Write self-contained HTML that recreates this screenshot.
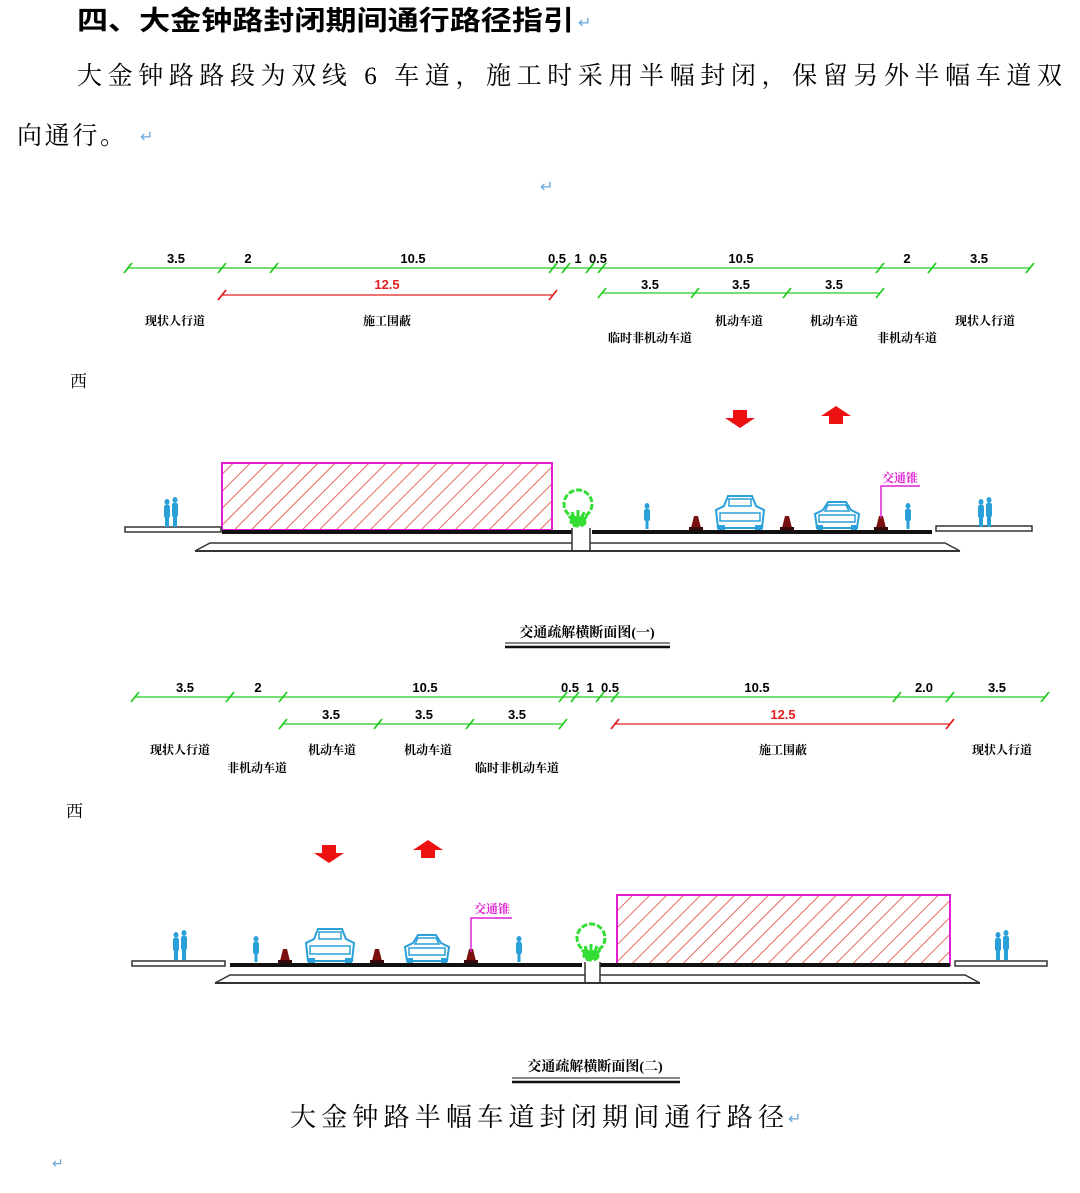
<!DOCTYPE html>
<html><head><meta charset="utf-8"><style>
html,body{margin:0;padding:0;background:#fff;width:1080px;height:1193px;overflow:hidden}
svg{display:block}
.h{font-family:"Liberation Sans","Noto Sans CJK SC",sans-serif;font-weight:bold}
.s{font-family:"Liberation Serif","Noto Serif CJK SC",serif}
.d{font-family:"Liberation Sans","Noto Sans CJK SC",sans-serif;font-size:13px;font-weight:bold;text-anchor:middle}
.l{font-family:"Liberation Serif","Noto Serif CJK SC",serif;font-size:12px;font-weight:bold;text-anchor:middle}
.r{fill:#6aa6d8;font-family:"DejaVu Sans",sans-serif}
</style></head><body>
<svg width="1080" height="1193" viewBox="0 0 1080 1193" xmlns="http://www.w3.org/2000/svg">
<defs>
<pattern id="hatch" patternUnits="userSpaceOnUse" width="12" height="12" patternTransform="rotate(45)">
<line x1="0" y1="0" x2="0" y2="12" stroke="#e0453a" stroke-width="1.6"/>
</pattern>
<g id="tg"><line x1="-4" y1="5" x2="4" y2="-5" stroke="#22cc22" stroke-width="1.8"/></g>
<g id="tr"><line x1="-4" y1="5" x2="4" y2="-5" stroke="#e02020" stroke-width="1.8"/></g>
<g id="ppl" fill="#2aa0d8"><ellipse cx="-4" cy="-26" rx="2.5" ry="3"/><rect x="-7" y="-23" width="6" height="13" rx="2"/><rect x="-6" y="-11" width="4" height="10"/><ellipse cx="4" cy="-28" rx="2.5" ry="3"/><rect x="1" y="-25" width="6" height="14" rx="2"/><rect x="2" y="-12" width="4" height="11"/></g>
<g id="bike" fill="#2aa0d8"><ellipse cx="0" cy="-24" rx="2.5" ry="3"/><rect x="-3" y="-21" width="6" height="12" rx="2"/><rect x="-1.5" y="-10" width="3" height="9"/></g>
<g id="cone"><path d="M-2,-14 L2,-14 L5,-2 L-5,-2Z" fill="#7a1010"/><rect x="-7" y="-3" width="14" height="3" fill="#3a0a0a"/></g>
<g id="car1"><path d="M-22,-2 L-24,-20 L-16,-24 L-12,-34 L12,-34 L16,-24 L24,-20 L22,-2Z" fill="#fff" stroke="#2aa0d8" stroke-width="2"/><rect x="-11" y="-31" width="22" height="7" fill="none" stroke="#2aa0d8" stroke-width="1.5"/><rect x="-20" y="-17" width="40" height="8" fill="none" stroke="#2aa0d8" stroke-width="1.5"/><rect x="-22" y="-5" width="7" height="5" fill="#2aa0d8"/><rect x="15" y="-5" width="7" height="5" fill="#2aa0d8"/></g>
<g id="car2"><path d="M-20,-2 L-22,-16 L-14,-20 L-9,-28 L9,-28 L14,-20 L22,-16 L20,-2Z" fill="#fff" stroke="#2aa0d8" stroke-width="2"/><path d="M-9,-25 L9,-25 L12,-19 L-12,-19Z" fill="none" stroke="#2aa0d8" stroke-width="1.5"/><rect x="-18" y="-15" width="36" height="7" fill="none" stroke="#2aa0d8" stroke-width="1.5"/><rect x="-20" y="-5" width="6" height="5" fill="#2aa0d8"/><rect x="14" y="-5" width="6" height="5" fill="#2aa0d8"/></g>
<g id="tree" fill="none" stroke="#33dd33" stroke-width="3" stroke-dasharray="6 2"><circle cx="0" cy="-22" r="14"/><path d="M-9,-10 L-2,-2 M9,-10 L2,-2 M0,-16 L0,-2 M-6,-14 L-3,-6 M6,-14 L3,-6" stroke-dasharray="none"/><ellipse cx="0" cy="-4" rx="7" ry="4" fill="#33dd33"/></g>
<g id="down"><path d="M-7,0 L7,0 L7,8 L15,8 L0,18 L-15,8 L-7,8Z" fill="#ee1111"/></g>
<g id="up"><path d="M-7,18 L7,18 L7,10 L15,10 L0,0 L-15,10 L-7,10Z" fill="#ee1111"/></g>
</defs>

<text class="h" x="77" y="30" font-size="27" textLength="497" lengthAdjust="spacingAndGlyphs">四、大金钟路封闭期间通行路径指引</text><text class="r" x="578" y="28" font-size="16">↵</text>
<text class="s" x="77" y="84" font-size="25" textLength="985" lengthAdjust="spacing">大金钟路路段为双线 6 车道，施工时采用半幅封闭，保留另外半幅车道双</text>
<text class="s" x="17" y="144" font-size="25" textLength="108" lengthAdjust="spacing">向通行。</text><text class="r" x="140" y="142" font-size="16">↵</text>
<text class="r" x="540" y="192" font-size="16">↵</text>

<!-- Section 1 -->
<g>
<line x1="128" y1="268" x2="1030" y2="268" stroke="#22cc22" stroke-width="1.3"/>
<use href="#tg" x="128" y="268"/><use href="#tg" x="222" y="268"/><use href="#tg" x="274" y="268"/><use href="#tg" x="553" y="268"/><use href="#tg" x="566" y="268"/><use href="#tg" x="590" y="268"/><use href="#tg" x="602" y="268"/><use href="#tg" x="880" y="268"/><use href="#tg" x="932" y="268"/><use href="#tg" x="1030" y="268"/>
<text class="d" x="176" y="263">3.5</text><text class="d" x="248" y="263">2</text><text class="d" x="413" y="263">10.5</text><text class="d" x="557" y="263">0.5</text><text class="d" x="578" y="263">1</text><text class="d" x="598" y="263">0.5</text><text class="d" x="741" y="263">10.5</text><text class="d" x="907" y="263">2</text><text class="d" x="979" y="263">3.5</text>
<line x1="222" y1="295" x2="553" y2="295" stroke="#e02020" stroke-width="1.3"/><use href="#tr" x="222" y="295"/><use href="#tr" x="553" y="295"/>
<text class="d" x="387" y="289" fill="#e02020">12.5</text>
<line x1="602" y1="293" x2="880" y2="293" stroke="#22cc22" stroke-width="1.3"/>
<use href="#tg" x="602" y="293"/><use href="#tg" x="695" y="293"/><use href="#tg" x="787" y="293"/><use href="#tg" x="880" y="293"/>
<text class="d" x="650" y="289">3.5</text><text class="d" x="741" y="289">3.5</text><text class="d" x="834" y="289">3.5</text>
<text class="l" x="175" y="325">现状人行道</text><text class="l" x="387" y="325">施工围蔽</text><text class="l" x="650" y="342">临时非机动车道</text><text class="l" x="739" y="325">机动车道</text><text class="l" x="834" y="325">机动车道</text><text class="l" x="907" y="342">非机动车道</text><text class="l" x="985" y="325">现状人行道</text>
<text class="s" x="70" y="387" font-size="17">西</text>
<use href="#down" x="740" y="410"/><use href="#up" x="836" y="406"/>
<rect x="222" y="463" width="330" height="67" fill="url(#hatch)" stroke="#e020d0" stroke-width="2"/>
<rect x="125" y="527" width="96" height="5" fill="#fff" stroke="#333" stroke-width="1.5"/>
<rect x="936" y="526" width="96" height="5" fill="#fff" stroke="#333" stroke-width="1.5"/>
<rect x="222" y="530" width="350" height="4" fill="#111"/>
<rect x="592" y="530" width="340" height="4" fill="#111"/>
<path d="M195,551 L210,543 L572,543 M590,543 L945,543 L960,551" fill="none" stroke="#333" stroke-width="1.5"/>
<line x1="195" y1="551" x2="960" y2="551" stroke="#333" stroke-width="2"/>
<path d="M572,528 L572,551 M590,528 L590,551" stroke="#333" stroke-width="1.5"/>
<use href="#tree" x="578" y="526"/>
<use href="#ppl" x="171" y="528"/><use href="#ppl" x="985" y="528"/>
<use href="#bike" x="647" y="530"/><use href="#bike" x="908" y="530"/>
<use href="#cone" x="696" y="530"/><use href="#cone" x="787" y="530"/><use href="#cone" x="881" y="530"/>
<use href="#car1" x="740" y="530"/><use href="#car2" x="837" y="530"/>
<polyline points="881,518 881,486 920,486" fill="none" stroke="#e020d0" stroke-width="1.5"/>
<text x="900" y="482" fill="#e020d0" class="l">交通锥</text>
<text class="l" x="587" y="637" style="font-size:14px">交通疏解横断面图(一)</text>
<line x1="505" y1="643" x2="670" y2="643" stroke="#111" stroke-width="1"/><line x1="505" y1="647" x2="670" y2="647" stroke="#111" stroke-width="2.5"/>
</g>

<!-- Section 2 -->
<g>
<line x1="135" y1="697" x2="1045" y2="697" stroke="#22cc22" stroke-width="1.3"/>
<use href="#tg" x="135" y="697"/><use href="#tg" x="230" y="697"/><use href="#tg" x="283" y="697"/><use href="#tg" x="563" y="697"/><use href="#tg" x="575" y="697"/><use href="#tg" x="600" y="697"/><use href="#tg" x="615" y="697"/><use href="#tg" x="897" y="697"/><use href="#tg" x="950" y="697"/><use href="#tg" x="1045" y="697"/>
<text class="d" x="185" y="692">3.5</text><text class="d" x="258" y="692">2</text><text class="d" x="425" y="692">10.5</text><text class="d" x="570" y="692">0.5</text><text class="d" x="590" y="692">1</text><text class="d" x="610" y="692">0.5</text><text class="d" x="757" y="692">10.5</text><text class="d" x="924" y="692">2.0</text><text class="d" x="997" y="692">3.5</text>
<line x1="283" y1="724" x2="563" y2="724" stroke="#22cc22" stroke-width="1.3"/>
<use href="#tg" x="283" y="724"/><use href="#tg" x="378" y="724"/><use href="#tg" x="470" y="724"/><use href="#tg" x="563" y="724"/>
<text class="d" x="331" y="719">3.5</text><text class="d" x="424" y="719">3.5</text><text class="d" x="517" y="719">3.5</text>
<line x1="615" y1="724" x2="950" y2="724" stroke="#e02020" stroke-width="1.3"/><use href="#tr" x="615" y="724"/><use href="#tr" x="950" y="724"/>
<text class="d" x="783" y="719" fill="#e02020">12.5</text>
<text class="l" x="180" y="754">现状人行道</text><text class="l" x="257" y="772">非机动车道</text><text class="l" x="332" y="754">机动车道</text><text class="l" x="428" y="754">机动车道</text><text class="l" x="517" y="772">临时非机动车道</text><text class="l" x="783" y="754">施工围蔽</text><text class="l" x="1002" y="754">现状人行道</text>
<text class="s" x="66" y="817" font-size="17">西</text>
<use href="#down" x="329" y="845"/><use href="#up" x="428" y="840"/>
<rect x="617" y="895" width="333" height="70" fill="url(#hatch)" stroke="#e020d0" stroke-width="2"/>
<rect x="132" y="961" width="93" height="5" fill="#fff" stroke="#333" stroke-width="1.5"/>
<rect x="955" y="961" width="92" height="5" fill="#fff" stroke="#333" stroke-width="1.5"/>
<rect x="230" y="963" width="352" height="4" fill="#111"/>
<rect x="600" y="963" width="350" height="4" fill="#111"/>
<path d="M215,983 L230,975 L585,975 M600,975 L965,975 L980,983" fill="none" stroke="#333" stroke-width="1.5"/>
<line x1="215" y1="983" x2="980" y2="983" stroke="#333" stroke-width="2"/>
<path d="M585,962 L585,983 M600,962 L600,983" stroke="#333" stroke-width="1.5"/>
<use href="#tree" x="591" y="960"/>
<use href="#ppl" x="180" y="961"/><use href="#ppl" x="1002" y="961"/>
<use href="#bike" x="256" y="963"/><use href="#bike" x="519" y="963"/>
<use href="#cone" x="285" y="963"/><use href="#cone" x="377" y="963"/><use href="#cone" x="471" y="963"/>
<use href="#car1" x="330" y="963"/><use href="#car2" x="427" y="963"/>
<polyline points="471,952 471,918 512,918" fill="none" stroke="#e020d0" stroke-width="1.5"/>
<text x="492" y="913" fill="#e020d0" class="l">交通锥</text>
<text class="l" x="595" y="1071" style="font-size:14px">交通疏解横断面图(二)</text>
<line x1="512" y1="1078" x2="680" y2="1078" stroke="#111" stroke-width="1"/><line x1="512" y1="1082" x2="680" y2="1082" stroke="#111" stroke-width="2.5"/>
</g>

<text class="s" x="290" y="1126" font-size="26" textLength="494" lengthAdjust="spacing">大金钟路半幅车道封闭期间通行路径</text><text class="r" x="788" y="1124" font-size="16">↵</text>
<text class="r" x="52" y="1168" font-size="14">↵</text>
</svg>
</body></html>
